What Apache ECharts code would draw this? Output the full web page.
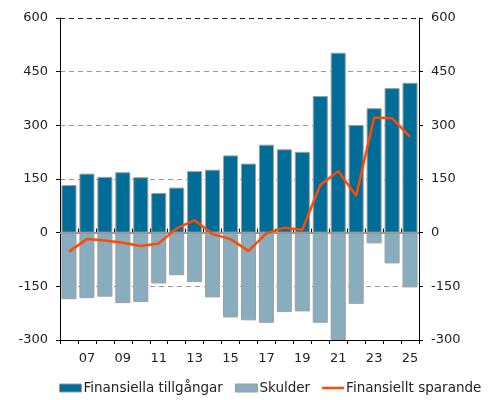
<!DOCTYPE html>
<html>
<head>
<meta charset="utf-8">
<script src="https://cdn.jsdelivr.net/npm/echarts@6/dist/echarts.min.js"></script>
<style>
  html, body { margin: 0; padding: 0; background: #fff; }
  #main { width: 496px; height: 400px; }
</style>
</head>
<body>
<div id="main"></div>
<script>
var years = ['06', '07', '08', '09', '10', '11', '12', '13', '14', '15',
             '16', '17', '18', '19', '20', '21', '22', '23', '24', '25'];
var tillgangar = [133, 165, 156, 169, 155, 111, 126, 172, 176, 216,
                  193, 246, 233, 226, 382, 503, 301, 348, 404, 419];
var skulder = [-186, -183, -179, -197, -194, -142, -119, -138, -181, -237,
               -245, -252, -222, -220, -252, -300, -199, -30, -86, -153];
var sparande = [-53, -18, -22, -28, -37, -30, 12, 35, -4, -18,
                -51, -2, 14, 8, 133, 172, 103, 322, 320, 268];

var font = 'DejaVu Sans';

var mChart = echarts.init(document.getElementById('main'));
var option = {
  animation: false,
  grid: { left: 60, right: 77, top: 18, bottom: 60 },
  legend: {
    bottom: 0,
    left: 54,
    itemWidth: 22,
    itemHeight: 8,
    itemGap: 12,
    textStyle: { fontFamily: font, fontSize: 13.5, color: '#222', padding: [0, 0, 0, -3] },
    data: [
      { name: 'Finansiella tillgångar', icon: 'rect', itemStyle: { borderColor: '#999', borderWidth: 1 } },
      { name: 'Skulder', icon: 'rect', itemStyle: { borderColor: '#999', borderWidth: 1 } },
      { name: 'Finansiellt sparande', icon: 'path://M0,0H22V2.5H0Z', itemStyle: { color: '#ff4a00', borderWidth: 0 } }
    ]
  },
  xAxis: [{
    type: 'category',
    data: years,
    position: 'bottom',
    axisLine: { onZero: false, lineStyle: { color: '#000', width: 1 } },
    axisTick: { show: true, length: 4, lineStyle: { color: '#000' }, interval: 0 },
    axisLabel: {
      interval: function (i) { return i % 2 === 1; },
      fontFamily: font, fontSize: 13, color: '#222', margin: 12
    }
  }, {
    // inside ticks on the bottom line
    type: 'category',
    data: years,
    position: 'bottom',
    axisLine: { show: false },
    axisTick: { show: true, inside: true, length: 4, lineStyle: { color: '#000' }, interval: 0 },
    axisLabel: { show: false }
  }],
  yAxis: [{
    type: 'value',
    min: -300, max: 600, interval: 150,
    axisLine: { show: true, lineStyle: { color: '#000' } },
    axisTick: { show: true, length: 4, lineStyle: { color: '#000' } },
    axisLabel: { fontFamily: font, fontSize: 13, color: '#222', margin: 12 },
    splitLine: { show: true, lineStyle: { color: '#999', type: [5, 4], width: 1 } }
  }, {
    type: 'value',
    min: -300, max: 600, interval: 150,
    position: 'right',
    axisLine: { show: true, lineStyle: { color: '#000' } },
    axisTick: { show: true, length: 4, lineStyle: { color: '#000' } },
    axisLabel: { fontFamily: font, fontSize: 13, color: '#222', margin: 12 },
    splitLine: { show: false }
  }],
  series: [
    {
      name: 'Finansiella tillgångar',
      type: 'bar',
      stack: 'a',
      data: tillgangar,
      barCategoryGap: '16%',
      itemStyle: { color: '#006c98', borderColor: '#a0a0a0', borderWidth: 1 },
      z: 2
    },
    {
      name: 'Skulder',
      type: 'bar',
      stack: 'a',
      data: skulder,
      itemStyle: { color: '#88adbe', borderColor: '#a0a0a0', borderWidth: 1 },
      z: 2
    },
    {
      name: 'Finansiellt sparande',
      type: 'line',
      data: sparande,
      symbol: 'none',
      lineStyle: { color: '#ff4a00', width: 2.5 },
      itemStyle: { color: '#ff4a00' },
      z: 5,
      markLine: {
        silent: true,
        symbol: 'none',
        label: { show: false },
        animation: false,
        z: 3,
        data: [
          { yAxis: 0, lineStyle: { color: '#999', type: 'solid', width: 2 } },
          { yAxis: 600, lineStyle: { color: '#222', type: [5, 4], width: 1 } }
        ]
      }
    }
  ]
};
mChart.setOption(option);
</script>
</body>
</html>
